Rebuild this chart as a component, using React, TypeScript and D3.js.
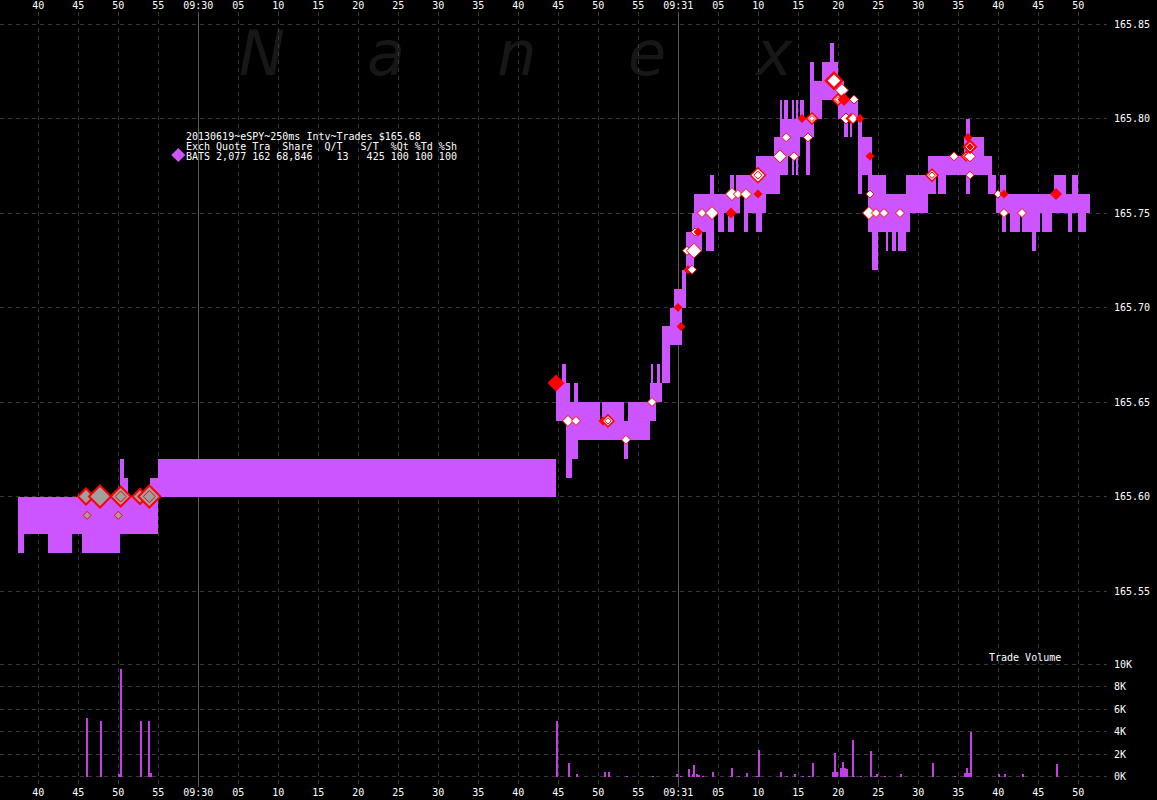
import React from 'react';
import * as d3 from 'd3';

// time = seconds after 09:29:00
// [start, end, ask, bid]
const quoteBands: [number, number, number, number][] = [
  [37.5, 38.25, 165.60, 165.57],
  [38.25, 41.25, 165.60, 165.58],
  [41.25, 44.25, 165.60, 165.57],
  [44.25, 45.5, 165.60, 165.58],
  [45.5, 50.25, 165.60, 165.57],
  [50.25, 50.75, 165.62, 165.58],
  [50.75, 51.25, 165.61, 165.58],
  [51.25, 54.0, 165.60, 165.58],
  [54.0, 55.0, 165.61, 165.58],
  [55.0, 104.75, 165.62, 165.60],
  [104.75, 105.5, 165.66, 165.64],
  [105.5, 106, 165.67, 165.64],
  [106, 106.5, 165.66, 165.61],
  [106.5, 106.75, 165.65, 165.61],
  [106.75, 107, 165.65, 165.62],
  [107, 107.5, 165.66, 165.62],
  [107.5, 110.25, 165.65, 165.63],
  [110.25, 110.5, 165.64, 165.63],
  [110.5, 113.25, 165.65, 165.63],
  [113.25, 113.75, 165.64, 165.62],
  [113.75, 116.5, 165.65, 165.63],
  [116.5, 117.25, 165.66, 165.64],
  [116.625, 116.875, 165.67, 165.64],
  [117.25, 118, 165.66, 165.65],
  [117.375, 117.75, 165.67, 165.65],
  [118, 119, 165.69, 165.66],
  [119, 119.5, 165.70, 165.68],
  [119.5, 120.5, 165.71, 165.68],
  [120.5, 121, 165.72, 165.70],
  [121, 121.75, 165.74, 165.72],
  [121.75, 122, 165.75, 165.72],
  [122, 123, 165.76, 165.73],
  [123, 123.5, 165.76, 165.74],
  [123.5, 124, 165.76, 165.73],
  [124, 124.5, 165.77, 165.73],
  [124.5, 125, 165.76, 165.75],
  [125, 125.75, 165.76, 165.74],
  [125.75, 126.25, 165.76, 165.75],
  [126.25, 126.5, 165.76, 165.74],
  [126.5, 127, 165.77, 165.74],
  [127, 127.25, 165.76, 165.75],
  [127.25, 127.75, 165.77, 165.75],
  [127.75, 128.25, 165.77, 165.76],
  [128.25, 128.75, 165.77, 165.74],
  [128.75, 129.75, 165.77, 165.75],
  [129.75, 130.5, 165.78, 165.74],
  [130.5, 131, 165.78, 165.75],
  [131, 132, 165.78, 165.76],
  [132, 132.75, 165.79, 165.76],
  [132.75, 133, 165.81, 165.77],
  [133, 133.25, 165.80, 165.77],
  [133.25, 133.75, 165.81, 165.77],
  [133.75, 134.25, 165.80, 165.78],
  [134.25, 134.5, 165.81, 165.77],
  [134.5, 134.75, 165.80, 165.78],
  [134.75, 135, 165.81, 165.77],
  [135, 135.25, 165.80, 165.78],
  [135.25, 135.75, 165.81, 165.79],
  [135.75, 136, 165.80, 165.79],
  [136, 136.5, 165.80, 165.77],
  [136.5, 137, 165.83, 165.79],
  [137, 138, 165.82, 165.80],
  [138, 139, 165.83, 165.81],
  [139, 139.5, 165.84, 165.81],
  [139.5, 140, 165.83, 165.81],
  [140, 140.75, 165.82, 165.80],
  [140.75, 141.25, 165.81, 165.79],
  [141.25, 141.5, 165.81, 165.80],
  [141.5, 141.75, 165.81, 165.79],
  [141.75, 142.5, 165.81, 165.80],
  [142.5, 143, 165.80, 165.76],
  [143, 143.75, 165.79, 165.77],
  [143.75, 144.25, 165.79, 165.74],
  [144.25, 145, 165.77, 165.72],
  [145, 146, 165.77, 165.74],
  [146, 146.25, 165.76, 165.73],
  [146.25, 146.75, 165.76, 165.74],
  [146.75, 147.25, 165.76, 165.73],
  [147.25, 147.5, 165.76, 165.74],
  [147.5, 148.5, 165.76, 165.73],
  [148.5, 149, 165.77, 165.74],
  [149, 151.25, 165.77, 165.75],
  [151.25, 152.25, 165.78, 165.76],
  [152.25, 152.5, 165.78, 165.77],
  [152.5, 153.5, 165.78, 165.76],
  [153.5, 155.75, 165.78, 165.77],
  [155.75, 156, 165.79, 165.77],
  [156, 156.5, 165.80, 165.76],
  [156.5, 158.25, 165.79, 165.77],
  [158.25, 158.75, 165.78, 165.77],
  [158.75, 159.25, 165.78, 165.76],
  [159.25, 159.75, 165.77, 165.76],
  [159.75, 160.25, 165.76, 165.75],
  [160.25, 160.5, 165.77, 165.75],
  [160.5, 161, 165.77, 165.74],
  [161, 161.5, 165.76, 165.75],
  [161.5, 162.75, 165.76, 165.74],
  [162.75, 163, 165.76, 165.75],
  [163, 164.25, 165.76, 165.74],
  [164.25, 164.75, 165.76, 165.73],
  [164.75, 165.25, 165.76, 165.74],
  [165.25, 165.5, 165.76, 165.75],
  [165.5, 166.75, 165.76, 165.74],
  [166.75, 167, 165.76, 165.75],
  [167, 168.5, 165.77, 165.75],
  [168.5, 168.75, 165.76, 165.75],
  [168.75, 169.25, 165.76, 165.74],
  [169.25, 170, 165.77, 165.75],
  [170, 171, 165.76, 165.74],
  [171, 171.5, 165.76, 165.75],
];

// [time, price, marker kind, half size]
const trades: [number, number, string, number][] = [
  [45.96, 165.60, 'gray', 9],
  [47.71, 165.60, 'gray', 12],
  [50.30, 165.60, 'grayD', 11],
  [52.71, 165.60, 'gray', 8.5],
  [53.88, 165.60, 'grayD', 12],
  [46.10, 165.59, 'gray', 4.5],
  [50.00, 165.59, 'gray', 4.5],
  [104.71, 165.66, 'red', 8.5],
  [106.21, 165.64, 'white', 5.5],
  [107.21, 165.64, 'white', 4.5],
  [110.59, 165.64, 'red', 4.5],
  [111.21, 165.64, 'whiteD', 6.5],
  [113.46, 165.63, 'white', 4.5],
  [116.71, 165.65, 'white', 4.5],
  [119.96, 165.70, 'red', 4.5],
  [120.34, 165.69, 'red', 4.5],
  [121.21, 165.72, 'red', 4.5],
  [121.71, 165.72, 'white', 4.5],
  [121.09, 165.73, 'white', 4.5],
  [121.96, 165.73, 'white', 7.5],
  [122.09, 165.74, 'white', 4],
  [122.46, 165.74, 'red', 4.5],
  [122.96, 165.75, 'white', 4.5],
  [124.21, 165.75, 'white', 6.5],
  [126.59, 165.75, 'red', 5.5],
  [126.71, 165.76, 'white', 6.5],
  [127.46, 165.76, 'white', 4.5],
  [128.46, 165.76, 'white', 5.5],
  [129.96, 165.76, 'red', 4.5],
  [129.96, 165.77, 'whiteD', 8],
  [132.71, 165.78, 'white', 6.5],
  [133.50, 165.79, 'white', 4.5],
  [134.46, 165.78, 'white', 4.5],
  [135.46, 165.80, 'red', 4.5],
  [136.21, 165.79, 'white', 4.5],
  [136.71, 165.80, 'whiteD', 6],
  [139.46, 165.82, 'whiteL', 9],
  [139.96, 165.81, 'whiteD', 6],
  [140.46, 165.815, 'white', 6.5],
  [140.71, 165.81, 'red', 6.5],
  [141.96, 165.81, 'white', 4.5],
  [140.96, 165.80, 'white', 5.5],
  [141.59, 165.80, 'red', 5.5],
  [141.84, 165.80, 'white', 5],
  [142.71, 165.80, 'red', 4.5],
  [143.96, 165.78, 'red', 4.5],
  [143.96, 165.76, 'white', 4],
  [143.84, 165.75, 'white', 6.5],
  [144.71, 165.75, 'white', 4.5],
  [145.71, 165.75, 'white', 4.5],
  [147.71, 165.75, 'white', 4.5],
  [151.71, 165.77, 'whiteD', 6.5],
  [154.46, 165.78, 'white', 4.5],
  [155.96, 165.78, 'whiteD', 5],
  [156.46, 165.78, 'white', 5.5],
  [156.21, 165.79, 'red', 4.5],
  [156.46, 165.785, 'redD', 7.5],
  [156.46, 165.77, 'white', 4],
  [159.96, 165.76, 'white', 4],
  [160.71, 165.76, 'red', 4.5],
  [160.71, 165.75, 'white', 4.5],
  [162.96, 165.75, 'white', 4.5],
  [167.21, 165.76, 'red', 6],
];

// [time, shares]
const volumes: [number, number][] = [
  [46.03, 5250], [47.79, 5000], [50.09, 200], [50.34, 9600], [52.84, 5000],
  [53.8, 5000], [54.03, 350], [104.84, 5000], [106.34, 1250], [107.34, 200],
  [110.78, 400], [111.34, 450], [113.53, 100], [116.84, 100], [119.84, 200],
  [120.34, 100], [121.28, 650], [121.78, 200], [121.96, 1000], [122.28, 200],
  [122.53, 150], [123.09, 100], [124.34, 450], [126.53, 100], [126.71, 800],
  [127.53, 100], [128.53, 300], [129.84, 100], [130.05, 2350], [132.84, 450],
  [133.59, 100], [134.59, 200], [135.59, 100], [136.34, 100], [136.84, 1250],
  [139.3, 400], [139.55, 2100], [139.8, 400], [140.3, 800], [140.55, 1350],
  [140.8, 800], [141.05, 650], [141.78, 3300], [141.96, 100], [142.84, 100],
  [144.09, 2250], [144.59, 100], [144.84, 200], [145.84, 100], [147.84, 200],
  [151.84, 1250], [154.59, 100], [155.78, 300], [156.03, 800], [156.28, 300],
  [156.59, 4000], [160.03, 200], [160.84, 250], [163.09, 200], [167.34, 1150],
];

const priceTicks = [165.55, 165.6, 165.65, 165.7, 165.75, 165.8, 165.85];
const volumeTicks = [0, 2000, 4000, 6000, 8000, 10000];
const timeTicks = [40, 45, 50, 55, 60, 65, 70, 75, 80, 85, 90, 95, 100, 105, 110, 115, 120, 125, 130, 135, 140, 145, 150, 155, 160, 165, 170];
const watermarkLetters = ['N', 'a', 'n', 'e', 'x'];
const legendLines = [
  '20130619~eSPY~250ms Intv~Trades $165.68',
  'Exch Quote Tra  Share  Q/T   S/T  %Qt %Td %Sh',
  'BATS 2,077 162 68,846    13   425 100 100 100',
];

const W = 1157;
const H = 800;
const PLOT_RIGHT = 1107;
const BAND = '#cc55ff';
const VOL = '#c23fe6';
const GRID = '#3a3a3a';
const MONO = '"DejaVu Sans Mono", "Liberation Mono", monospace';

function diamond(cx: number, cy: number, r: number) {
  return `M${cx},${cy - r}L${cx + r},${cy}L${cx},${cy + r}L${cx - r},${cy}Z`;
}

function Marker({ cx, cy, kind, r }: { cx: number; cy: number; kind: string; r: number }) {
  if (kind === 'red') {
    return <path d={diamond(cx, cy, r)} fill="#ff0000" />;
  }
  if (kind === 'redD') {
    return (
      <g>
        <path d={diamond(cx, cy, r)} fill="#ff0000" />
        <path d={diamond(cx, cy, r * 0.55)} fill="#ff0000" stroke="#ffffff" strokeWidth={1} />
      </g>
    );
  }
  if (kind === 'white') {
    return <path d={diamond(cx, cy, r)} fill="#ffffff" stroke="#ff0000" strokeWidth={1} />;
  }
  if (kind === 'whiteL') {
    return <path d={diamond(cx, cy, r - 1)} fill="#ffffff" stroke="#ff0000" strokeWidth={2.5} />;
  }
  if (kind === 'whiteD') {
    return (
      <g>
        <path d={diamond(cx, cy, r - 0.5)} fill="#ffffff" stroke="#ff0000" strokeWidth={1.5} />
        <path d={diamond(cx, cy, r * 0.5)} fill="#ffffff" stroke="#ff0000" strokeWidth={1} />
      </g>
    );
  }
  if (kind === 'grayD') {
    return (
      <g>
        <path d={diamond(cx, cy, r - 1)} fill="#a0a0a0" stroke="#ff0000" strokeWidth={2} />
        <path d={diamond(cx, cy, r * 0.5)} fill="#a0a0a0" stroke="#ff0000" strokeWidth={1} />
      </g>
    );
  }
  // gray
  return <path d={diamond(cx, cy, r - (r > 6 ? 1 : 0.5))} fill="#a0a0a0" stroke="#ff0000" strokeWidth={r > 6 ? 2 : 1} />;
}

export default function App() {
  const x = d3.scaleLinear().domain([40, 170]).range([38.3, 1078.3]);
  const y = d3.scaleLinear().domain([165.55, 165.85]).range([591, 24]);
  const v = d3.scaleLinear().domain([0, 10000]).range([776.7, 664.3]);

  const fmtTime = (s: number) =>
    s % 60 === 0 ? `09:${29 + s / 60}` : d3.format('02d')(s % 60);
  const fmtPrice = d3.format('.2f');
  const fmtVol = (d: number) => `${d / 1000}K`;

  const wmX = [262, 386, 517, 647, 774];

  return (
    <div style={{ position: 'absolute', left: 0, top: 0, width: W, height: H, background: '#000' }}>
      <svg width={W} height={H} style={{ display: 'block' }}>
        <rect x={0} y={0} width={W} height={H} fill="#000" />

        {/* watermark */}
        <g fontFamily='"DejaVu Sans", sans-serif' fontStyle="italic" fontSize={62} fill="#171717" textAnchor="middle">
          {watermarkLetters.map((c, i) => (
            <text key={i} x={wmX[i]} y={75}>{c}</text>
          ))}
        </g>

        {/* vertical grid */}
        <g>
          {timeTicks.map((t) => (
            <line
              key={t}
              x1={x(t)} x2={x(t)} y1={12} y2={787}
              stroke={t % 60 === 0 ? '#5a5a5a' : GRID}
              strokeDasharray={t % 60 === 0 ? undefined : '4,4'}
              shapeRendering="crispEdges"
            />
          ))}
        </g>

        {/* horizontal grid */}
        <g>
          {priceTicks.map((p) => (
            <line key={p} x1={0} x2={PLOT_RIGHT} y1={y(p)} y2={y(p)} stroke={GRID} strokeDasharray="4,4" shapeRendering="crispEdges" />
          ))}
          {volumeTicks.map((d) => (
            <line key={d} x1={0} x2={PLOT_RIGHT} y1={v(d)} y2={v(d)} stroke={GRID} strokeDasharray="4,4" shapeRendering="crispEdges" />
          ))}
        </g>

        {/* quote bands */}
        <g fill={BAND} shapeRendering="crispEdges">
          {quoteBands.map(([s0, s1, ask, bid], i) => (
            <rect key={i} x={x(s0)} width={x(s1) - x(s0)} y={y(ask)} height={y(bid) - y(ask)} />
          ))}
        </g>

        {/* trades */}
        <g>
          {trades.map(([s, p, kind, r], i) => (
            <Marker key={i} cx={x(s)} cy={y(p)} kind={kind} r={r} />
          ))}
        </g>

        {/* volume */}
        <g fill={VOL} shapeRendering="crispEdges">
          {volumes.map(([s, n], i) => (
            <rect key={i} x={x(s) - 1} width={2} y={v(n)} height={v(0) - v(n)} />
          ))}
        </g>

        {/* time axis labels */}
        <g fontFamily={MONO} fontSize={10} fill="#ffffff" textAnchor="middle">
          {timeTicks.map((t) => (
            <text key={'t' + t} x={x(t)} y={9}>{fmtTime(t)}</text>
          ))}
          {timeTicks.map((t) => (
            <text key={'b' + t} x={x(t)} y={796}>{fmtTime(t)}</text>
          ))}
        </g>

        {/* price axis labels */}
        <g fontFamily={MONO} fontSize={10} fill="#ffffff">
          {priceTicks.map((p) => (
            <text key={p} x={1114} y={y(p) + 3.5}>{fmtPrice(p)}</text>
          ))}
          {volumeTicks.map((d) => (
            <text key={d} x={1114} y={v(d) + 3.5}>{fmtVol(d)}</text>
          ))}
          <text x={989} y={660.5}>Trade Volume</text>
        </g>

        {/* legend */}
        <g fontFamily={MONO} fontSize={10} fill="#ffffff">
          {legendLines.map((l, i) => (
            <text key={i} x={186} y={139.5 + i * 10} style={{ whiteSpace: 'pre' }}>{l}</text>
          ))}
          <path d={diamond(178.3, 155, 7)} fill={BAND} />
        </g>
      </svg>
    </div>
  );
}
